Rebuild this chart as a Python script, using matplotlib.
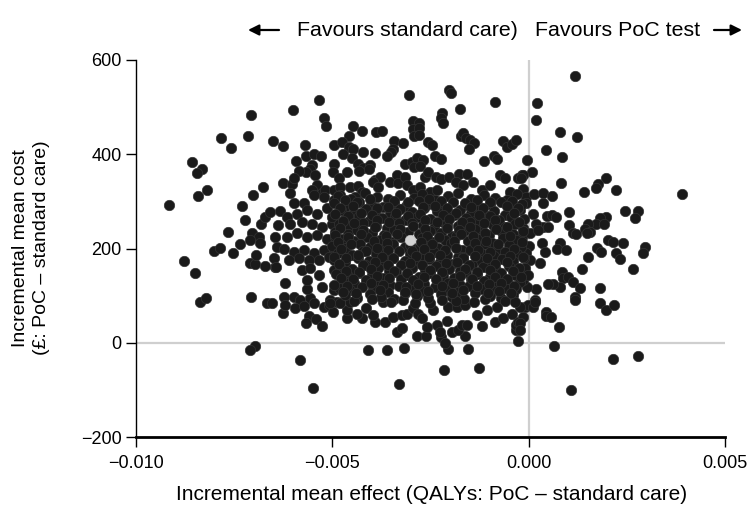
import matplotlib
matplotlib.use("Agg")
import matplotlib.pyplot as plt
import numpy as np

plt.rcParams["font.family"] = ["Liberation Sans", "DejaVu Sans"]

# Bootstrap replicates: (incremental effect in QALYs, incremental cost in £)
# scattered replicates away from the centre of the cloud
outer_left = [
    (-5.35e-3, 515), (-6.00e-3, 494), (-7.06e-3, 483), (-5.20e-3, 477), (-5.16e-3, 461),
    (-7.84e-3, 435), (-7.16e-3, 438), (-7.57e-3, 414), (-6.50e-3, 429), (-6.26e-3, 417),
    (-5.70e-3, 419), (-4.97e-3, 420), (-8.58e-3, 384), (-8.32e-3, 368), (-8.45e-3, 360),
    (-5.92e-3, 385), (-5.67e-3, 396), (-5.47e-3, 400), (-5.29e-3, 396), (-5.52e-3, 377),
    (-5.56e-3, 368), (-5.66e-3, 363), (-5.84e-3, 365), (-5.43e-3, 355), (-4.97e-3, 379),
    (-8.20e-3, 325), (-8.41e-3, 311), (-6.77e-3, 330), (-7.02e-3, 314), (-6.26e-3, 340),
    (-6.02e-3, 337), (-5.97e-3, 349), (-6.09e-3, 317), (-5.38e-3, 334), (-5.52e-3, 324),
    (-5.26e-3, 317), (-5.18e-3, 324), (-4.97e-3, 325),
    (-9.17e-3, 293), (-7.30e-3, 291), (-7.22e-3, 261), (-7.66e-3, 235), (-8.77e-3, 174),
    (-8.51e-3, 148), (-8.02e-3, 194), (-7.85e-3, 202), (-7.54e-3, 190), (-7.34e-3, 209),
    (-8.36e-3, 86), (-8.21e-3, 96), (-7.08e-3, 98), (-6.71e-3, 163), (-6.45e-3, 160),
    (-7.09e-3, 170), (-6.96e-3, 168), (-6.94e-3, 186), (-7.05e-3, 232), (-6.88e-3, 225),
    (-7.09e-3, 218), (-6.83e-3, 211), (-6.82e-3, 253), (-6.71e-3, 267), (-6.60e-3, 278),
    (-6.33e-3, 280), (-6.15e-3, 267), (-6.39e-3, 250), (-6.45e-3, 225), (-6.41e-3, 204),
    (-6.49e-3, 179), (-6.43e-3, 161), (-6.20e-3, 126), (-6.24e-3, 98), (-5.98e-3, 98),
    (-5.82e-3, 91), (-5.56e-3, 94), (-5.26e-3, 119), (-5.65e-3, 115), (-5.65e-3, 133),
    (-6.66e-3, 84), (-6.54e-3, 84),
    (-5.98e-3, 296), (-5.73e-3, 296), (-5.47e-3, 313), (-5.22e-3, 310), (-4.97e-3, 303),
    (-5.90e-3, 274), (-5.65e-3, 281), (-5.39e-3, 274), (-5.14e-3, 285), (-4.97e-3, 267),
    (-6.07e-3, 253), (-5.77e-3, 257), (-5.52e-3, 253), (-5.26e-3, 246), (-5.01e-3, 253),
    (-6.15e-3, 225), (-5.90e-3, 232), (-5.65e-3, 225), (-5.39e-3, 228), (-5.14e-3, 221),
    (-4.92e-3, 225), (-6.24e-3, 200), (-5.98e-3, 193), (-5.73e-3, 197), (-5.47e-3, 190),
    (-5.22e-3, 197), (-4.97e-3, 193), (-6.11e-3, 175), (-5.86e-3, 179), (-5.60e-3, 175),
    (-5.35e-3, 175), (-5.09e-3, 182), (-5.77e-3, 154), (-5.56e-3, 158), (-5.35e-3, 144),
    (-4.97e-3, 154), (-4.97e-3, 112), (-5.05e-3, 91),
    (-6.26e-3, 64), (-6.20e-3, 80), (-5.94e-3, 73), (-5.73e-3, 78), (-5.59e-3, 57),
    (-5.68e-3, 42), (-5.42e-3, 50), (-5.26e-3, 35), (-5.47e-3, 84), (-5.22e-3, 76),
    (-5.09e-3, 80), (-4.98e-3, 66), (-4.88e-3, 87), (-6.98e-3, -6), (-7.10e-3, -15),
    (-5.83e-3, -36), (-5.49e-3, -95),
]

outer_top = [
    (-3.04e-3, 526), (-2.03e-3, 536), (-1.99e-3, 529), (-0.87e-3, 510), (-1.75e-3, 495),
    (-2.21e-3, 488), (-2.23e-3, 476), (-2.17e-3, 467), (-2.94e-3, 470), (-2.79e-3, 467),
    (-2.95e-3, 453), (-2.79e-3, 455), (-2.92e-3, 439), (-2.79e-3, 441), (-4.47e-3, 460),
    (-4.24e-3, 449), (-3.90e-3, 448), (-3.73e-3, 450), (-4.58e-3, 438), (-4.75e-3, 426),
    (-4.58e-3, 416), (-4.47e-3, 412), (-4.73e-3, 400), (-4.23e-3, 404), (-3.91e-3, 402),
    (-3.42e-3, 428), (-3.21e-3, 424), (-3.45e-3, 412), (-3.50e-3, 405), (-3.62e-3, 396),
    (-2.56e-3, 426), (-2.46e-3, 419), (-2.38e-3, 396), (-2.23e-3, 389), (-1.73e-3, 438),
    (-1.68e-3, 445), (-1.60e-3, 435), (-1.49e-3, 431), (-1.39e-3, 423), (-1.51e-3, 412),
    (-1.13e-3, 385), (-0.88e-3, 397), (-0.81e-3, 389), (-0.65e-3, 428), (-0.56e-3, 416),
    (-0.43e-3, 421), (-0.32e-3, 431), (-0.05e-3, 388),
    (-4.98e-3, 363), (-4.84e-3, 349), (-4.63e-3, 363), (-4.51e-3, 392), (-4.34e-3, 379),
    (-4.21e-3, 370), (-4.04e-3, 377), (-4.06e-3, 368), (-4.31e-3, 365), (-3.92e-3, 345),
    (-3.15e-3, 380), (-2.98e-3, 383), (-2.84e-3, 392), (-2.68e-3, 388), (-2.92e-3, 373),
    (-2.77e-3, 375), (-2.64e-3, 352), (-2.56e-3, 363), (-2.36e-3, 352), (-2.22e-3, 347),
    (-1.77e-3, 359), (-1.58e-3, 358), (-2.02e-3, 351), (-1.85e-3, 341), (-1.67e-3, 334),
    (-1.41e-3, 341), (-1.20e-3, 324), (-0.99e-3, 334), (-0.73e-3, 356), (-0.60e-3, 349),
    (-0.26e-3, 349), (-0.18e-3, 356), (-0.48e-3, 320), (-0.14e-3, 327),
    (-3.79e-3, 352), (-3.96e-3, 341), (-3.83e-3, 331), (-3.53e-3, 341), (-3.36e-3, 356),
    (-3.32e-3, 338), (-3.15e-3, 352), (-3.11e-3, 334), (-2.94e-3, 324), (-2.77e-3, 331),
    (-2.51e-3, 320), (-2.34e-3, 324), (-4.81e-3, 331), (-4.55e-3, 330), (-4.34e-3, 332),
    (-4.25e-3, 320), (-4.81e-3, 313), (-4.42e-3, 310),
]

outer_bottom = [
    (-4.09e-3, -15), (-3.62e-3, -15), (-3.18e-3, -11), (-3.30e-3, -87), (-2.16e-3, -58),
    (-2.06e-3, -14), (-1.54e-3, -13), (-1.27e-3, -53), (-0.26e-3, 4),
    (-3.36e-3, 22), (-3.23e-3, 31), (-2.85e-3, 14), (-2.62e-3, 14), (-2.22e-3, 13),
    (-2.13e-3, -1), (-1.62e-3, 14), (-2.60e-3, 34), (-2.09e-3, 46), (-2.34e-3, 37),
    (-2.26e-3, 23), (-1.96e-3, 23), (-1.79e-3, 27), (-1.71e-3, 38), (-1.58e-3, 38),
    (-1.20e-3, 35), (-0.86e-3, 45), (-0.65e-3, 52), (-0.31e-3, 27), (-0.31e-3, 38),
    (-0.26e-3, 45),
    (-4.63e-3, 52), (-4.25e-3, 52), (-3.91e-3, 45), (-3.66e-3, 45), (-3.45e-3, 55),
    (-4.63e-3, 69), (-4.38e-3, 62), (-4.13e-3, 73), (-3.96e-3, 59), (-3.23e-3, 59),
    (-3.11e-3, 62), (-2.94e-3, 73), (-2.81e-3, 62), (-2.72e-3, 52), (-2.43e-3, 69),
    (-2.05e-3, 76), (-1.83e-3, 76), (-1.62e-3, 80), (-1.32e-3, 59), (-1.07e-3, 69),
    (-0.81e-3, 76), (-0.43e-3, 62), (-0.14e-3, 55), (-0.09e-3, 76), (-5.06e-3, 84),
    (-4.81e-3, 84), (-4.55e-3, 87), (-3.70e-3, 87), (-2.51e-3, 84),
]

outer_right = [
    (1.19e-3, 566), (0.22e-3, 508), (0.19e-3, 472), (0.81e-3, 447), (1.23e-3, 437),
    (0.44e-3, 410), (0.86e-3, 395), (0.08e-3, 363), (-0.15e-3, 356), (-0.20e-3, 350),
    (0.82e-3, 338), (1.96e-3, 349), (1.77e-3, 336), (1.72e-3, 329), (2.23e-3, 325),
    (1.40e-3, 320), (3.91e-3, 315), (-0.07e-3, 310), (0.13e-3, 315), (0.37e-3, 318),
    (0.59e-3, 311),
    (1.03e-3, 277), (2.46e-3, 280), (2.78e-3, 279), (2.72e-3, 265), (1.97e-3, 267),
    (1.82e-3, 264), (1.71e-3, 253), (1.52e-3, 253), (1.43e-3, 241), (1.56e-3, 235),
    (1.48e-3, 232), (1.92e-3, 251), (1.03e-3, 250), (1.14e-3, 233), (1.20e-3, 231),
    (0.46e-3, 269), (0.59e-3, 271), (0.70e-3, 267), (0.37e-3, 246), (0.50e-3, 245),
    (0.19e-3, 253), (0.12e-3, 273), (-0.07e-3, 296), (0.36e-3, 297), (-0.22e-3, 281),
    (2.03e-3, 218), (2.15e-3, 214), (2.41e-3, 211), (1.75e-3, 202), (1.83e-3, 193),
    (2.22e-3, 190), (2.32e-3, 178), (1.52e-3, 181), (0.81e-3, 212), (0.71e-3, 198),
    (0.94e-3, 197), (0.35e-3, 212), (0.42e-3, 193), (0.02e-3, 205), (-0.07e-3, 190),
    (0.03e-3, 176), (0.29e-3, 170), (-0.18e-3, 225), (0.03e-3, 232), (-0.14e-3, 243),
    (0.24e-3, 239), (2.95e-3, 204), (2.92e-3, 190), (2.65e-3, 156), (1.35e-3, 156),
    (0.84e-3, 151), (0.88e-3, 137), (0.80e-3, 119), (0.63e-3, 124), (0.50e-3, 124),
    (1.01e-3, 139), (1.14e-3, 129), (1.31e-3, 117), (1.82e-3, 117), (1.18e-3, 98),
    (0.19e-3, 115), (-0.05e-3, 119), (-0.14e-3, 133), (-0.09e-3, 158), (-0.01e-3, 144),
    (0.16e-3, 91), (-0.01e-3, 80),
    (-0.22e-3, 76), (0.10e-3, 75), (0.16e-3, 87), (0.44e-3, 66), (0.44e-3, 57),
    (0.57e-3, 55), (-0.22e-3, 41), (-0.22e-3, 27), (0.78e-3, 34), (0.65e-3, -7),
    (1.18e-3, 91), (1.82e-3, 84), (1.97e-3, 69), (2.18e-3, 80), (2.15e-3, -35),
    (2.78e-3, -28), (1.09e-3, -101),
]

# dense centre of the cloud
core = [
    (-4.85e-3, 312), (-4.52e-3, 306), (-4.18e-3, 318), (-3.87e-3, 309), (-3.58e-3, 304),
    (-3.27e-3, 314), (-2.93e-3, 307), (-2.71e-3, 316), (-2.38e-3, 303), (-2.06e-3, 311),
    (-1.79e-3, 317), (-1.46e-3, 305), (-1.13e-3, 313), (-0.86e-3, 308), (-0.56e-3, 302),
    (-0.29e-3, 315),
    (-4.95e-3, 296), (-4.66e-3, 291), (-4.33e-3, 299), (-4.02e-3, 293), (-3.71e-3, 288),
    (-3.44e-3, 297), (-3.12e-3, 290), (-2.79e-3, 300), (-2.56e-3, 294), (-2.24e-3, 289),
    (-1.93e-3, 298), (-1.62e-3, 292), (-1.31e-3, 287), (-0.98e-3, 295), (-0.71e-3, 299),
    (-0.41e-3, 290), (-0.16e-3, 294),
    (-4.79e-3, 281), (-4.46e-3, 276), (-4.14e-3, 284), (-3.91e-3, 278), (-3.54e-3, 273),
    (-3.31e-3, 283), (-2.98e-3, 277), (-2.66e-3, 285), (-2.34e-3, 279), (-2.11e-3, 274),
    (-1.76e-3, 282), (-1.48e-3, 275), (-1.21e-3, 286), (-0.89e-3, 280), (-0.61e-3, 272),
    (-0.26e-3, 284),
    (-5.00e-3, 266), (-4.69e-3, 262), (-4.31e-3, 270), (-4.06e-3, 258), (-3.74e-3, 264),
    (-3.41e-3, 269), (-3.16e-3, 260), (-2.84e-3, 267), (-2.52e-3, 263), (-2.19e-3, 257),
    (-1.91e-3, 271), (-1.59e-3, 265), (-1.36e-3, 259), (-1.04e-3, 268), (-0.76e-3, 261),
    (-0.44e-3, 266), (-0.11e-3, 263),
    (-4.84e-3, 251), (-4.56e-3, 246), (-4.21e-3, 254), (-3.89e-3, 248), (-3.61e-3, 243),
    (-3.29e-3, 255), (-2.69e-3, 249), (-2.42e-3, 244), (-2.09e-3, 253), (-1.81e-3, 247),
    (-1.49e-3, 256), (-1.22e-3, 242), (-0.91e-3, 250), (-0.59e-3, 245), (-0.34e-3, 252),
    (-4.94e-3, 236), (-4.61e-3, 231), (-4.36e-3, 239), (-3.99e-3, 233), (-3.69e-3, 228),
    (-3.42e-3, 240), (-3.08e-3, 234), (-2.79e-3, 230), (-2.51e-3, 238), (-2.24e-3, 232),
    (-1.96e-3, 227), (-1.64e-3, 237), (-1.36e-3, 241), (-1.01e-3, 229), (-0.69e-3, 235),
    (-0.41e-3, 231), (-0.14e-3, 238),
    (-4.76e-3, 221), (-4.44e-3, 216), (-4.11e-3, 224), (-3.79e-3, 218), (-3.51e-3, 213),
    (-3.24e-3, 225), (-2.71e-3, 222), (-2.46e-3, 214), (-2.14e-3, 219), (-1.86e-3, 226),
    (-1.54e-3, 215), (-1.26e-3, 220), (-0.94e-3, 212), (-0.66e-3, 223), (-0.31e-3, 217),
    (-5.01e-3, 206), (-4.64e-3, 201), (-4.29e-3, 209), (-4.04e-3, 203), (-3.76e-3, 198),
    (-3.46e-3, 210), (-3.14e-3, 204), (-2.91e-3, 199), (-2.59e-3, 208), (-2.31e-3, 202),
    (-1.99e-3, 211), (-1.71e-3, 197), (-1.39e-3, 205), (-1.11e-3, 209), (-0.79e-3, 200),
    (-0.51e-3, 207), (-0.19e-3, 203),
    (-4.86e-3, 191), (-4.49e-3, 186), (-4.21e-3, 194), (-3.89e-3, 188), (-3.61e-3, 183),
    (-3.29e-3, 195), (-3.01e-3, 189), (-2.69e-3, 184), (-2.41e-3, 193), (-2.09e-3, 187),
    (-1.81e-3, 182), (-1.49e-3, 196), (-1.21e-3, 190), (-0.89e-3, 185), (-0.61e-3, 192),
    (-0.29e-3, 188),
    (-4.96e-3, 176), (-4.69e-3, 171), (-4.34e-3, 179), (-4.06e-3, 173), (-3.74e-3, 168),
    (-3.46e-3, 180), (-3.14e-3, 174), (-2.86e-3, 169), (-2.54e-3, 178), (-2.26e-3, 172),
    (-1.94e-3, 167), (-1.66e-3, 181), (-1.29e-3, 175), (-1.01e-3, 170), (-0.69e-3, 177),
    (-0.41e-3, 173), (-0.12e-3, 179),
    (-4.81e-3, 161), (-4.49e-3, 156), (-4.16e-3, 164), (-3.84e-3, 158), (-3.56e-3, 153),
    (-3.24e-3, 165), (-2.96e-3, 159), (-2.64e-3, 154), (-2.36e-3, 163), (-2.04e-3, 157),
    (-1.76e-3, 152), (-1.44e-3, 166), (-1.16e-3, 160), (-0.84e-3, 155), (-0.51e-3, 162),
    (-0.24e-3, 158),
    (-4.91e-3, 146), (-4.59e-3, 141), (-4.31e-3, 149), (-3.99e-3, 143), (-3.71e-3, 138),
    (-3.39e-3, 150), (-3.11e-3, 144), (-2.79e-3, 139), (-2.51e-3, 148), (-2.19e-3, 142),
    (-1.91e-3, 137), (-1.59e-3, 151), (-1.31e-3, 145), (-0.99e-3, 140), (-0.71e-3, 147),
    (-0.36e-3, 143),
    (-4.74e-3, 131), (-4.46e-3, 126), (-4.14e-3, 134), (-3.86e-3, 128), (-3.54e-3, 123),
    (-3.26e-3, 135), (-2.94e-3, 129), (-2.66e-3, 124), (-2.34e-3, 133), (-2.06e-3, 127),
    (-1.74e-3, 122), (-1.46e-3, 136), (-1.14e-3, 130), (-0.86e-3, 125), (-0.54e-3, 132),
    (-0.21e-3, 128),
    (-4.84e-3, 116), (-4.56e-3, 111), (-4.24e-3, 119), (-3.96e-3, 113), (-3.59e-3, 108),
    (-3.31e-3, 120), (-2.99e-3, 114), (-2.71e-3, 109), (-2.39e-3, 118), (-2.11e-3, 112),
    (-1.79e-3, 107), (-1.51e-3, 121), (-1.19e-3, 115), (-0.91e-3, 110), (-0.59e-3, 117),
    (-0.31e-3, 113),
    (-4.69e-3, 101), (-4.36e-3, 96), (-4.04e-3, 104), (-3.76e-3, 98), (-3.44e-3, 93),
    (-3.16e-3, 105), (-2.84e-3, 99), (-2.56e-3, 94), (-2.24e-3, 103), (-1.96e-3, 97),
    (-1.64e-3, 92), (-1.36e-3, 106), (-0.99e-3, 100), (-0.71e-3, 95), (-0.39e-3, 102),
    (-4.45e-3, 89), (-4.00e-3, 92), (-3.50e-3, 86), (-3.20e-3, 90), (-2.90e-3, 85),
    (-2.20e-3, 91), (-1.85e-3, 88), (-1.40e-3, 86), (-1.10e-3, 92), (-0.60e-3, 89),
    (-0.35e-3, 87),
]

# further replicates packed between the centre rows
core_fill = [
    (-4.68e-3, 302), (-4.37e-3, 299), (-4.03e-3, 305), (-3.42e-3, 301), (-3.08e-3, 298),
    (-2.55e-3, 304), (-2.22e-3, 300), (-1.63e-3, 297), (-1.31e-3, 303), (-0.99e-3, 299),
    (-0.42e-3, 301),
    (-4.81e-3, 287), (-4.48e-3, 290), (-3.87e-3, 286), (-3.58e-3, 289), (-3.27e-3, 284),
    (-2.68e-3, 288), (-2.39e-3, 291), (-2.08e-3, 285), (-1.47e-3, 289), (-1.16e-3, 286),
    (-0.55e-3, 290), (-0.28e-3, 287),
    (-4.92e-3, 273), (-4.61e-3, 270), (-4.27e-3, 276), (-3.98e-3, 272), (-3.39e-3, 275),
    (-3.07e-3, 269), (-2.77e-3, 274), (-2.18e-3, 271), (-1.86e-3, 276), (-1.27e-3, 272),
    (-0.98e-3, 270), (-0.38e-3, 275),
    (-4.74e-3, 258), (-4.45e-3, 255), (-3.85e-3, 261), (-3.55e-3, 257), (-2.97e-3, 254),
    (-2.65e-3, 260), (-2.33e-3, 256), (-2.02e-3, 262), (-1.71e-3, 257), (-1.14e-3, 254),
    (-0.86e-3, 260), (-0.25e-3, 256),
    (-4.81e-3, 243), (-4.21e-3, 240), (-3.92e-3, 246), (-3.27e-3, 242), (-2.95e-3, 247),
    (-2.63e-3, 241), (-2.07e-3, 244), (-1.78e-3, 239), (-1.49e-3, 245), (-0.83e-3, 242),
    (-0.55e-3, 246),
    (-4.93e-3, 228), (-4.59e-3, 225), (-4.27e-3, 231), (-3.64e-3, 226), (-3.36e-3, 230),
    (-2.58e-3, 227), (-2.29e-3, 224), (-1.72e-3, 230), (-1.41e-3, 226), (-1.12e-3, 232),
    (-0.48e-3, 227),
    (-4.85e-3, 213), (-4.52e-3, 210), (-3.93e-3, 215), (-3.62e-3, 211), (-3.02e-3, 208),
    (-2.75e-3, 214), (-2.45e-3, 209), (-1.89e-3, 215), (-1.36e-3, 212), (-1.08e-3, 216),
    (-0.79e-3, 210), (-0.16e-3, 214),
    (-4.77e-3, 198), (-4.15e-3, 195), (-3.86e-3, 201), (-3.58e-3, 197), (-2.97e-3, 194),
    (-2.66e-3, 200), (-2.14e-3, 196), (-1.86e-3, 201), (-1.28e-3, 197), (-0.98e-3, 193),
    (-0.38e-3, 199),
    (-4.95e-3, 183), (-4.64e-3, 180), (-4.35e-3, 186), (-3.74e-3, 182), (-3.45e-3, 179),
    (-2.87e-3, 185), (-2.55e-3, 181), (-2.27e-3, 186), (-1.67e-3, 180), (-1.36e-3, 184),
    (-1.05e-3, 179), (-0.47e-3, 185), (-0.15e-3, 181),
    (-4.82e-3, 168), (-4.21e-3, 165), (-3.91e-3, 171), (-3.59e-3, 166), (-3.01e-3, 170),
    (-2.71e-3, 164), (-2.11e-3, 169), (-1.82e-3, 172), (-1.52e-3, 165), (-0.86e-3, 168),
    (-0.56e-3, 171),
    (-4.66e-3, 153), (-4.33e-3, 150), (-4.02e-3, 156), (-3.42e-3, 152), (-3.11e-3, 149),
    (-2.51e-3, 155), (-2.21e-3, 151), (-1.63e-3, 156), (-1.31e-3, 150), (-0.99e-3, 154),
    (-0.39e-3, 152),
    (-4.79e-3, 138), (-4.47e-3, 135), (-3.85e-3, 141), (-3.55e-3, 137), (-2.95e-3, 134),
    (-2.66e-3, 140), (-2.35e-3, 136), (-1.76e-3, 141), (-1.45e-3, 135), (-0.87e-3, 139),
    (-0.55e-3, 136), (-0.20e-3, 140),
    (-4.95e-3, 123), (-4.63e-3, 120), (-4.01e-3, 126), (-3.72e-3, 122), (-3.12e-3, 119),
    (-2.83e-3, 125), (-2.21e-3, 121), (-1.92e-3, 126), (-1.32e-3, 120), (-1.01e-3, 124),
    (-0.71e-3, 127), (-0.38e-3, 121),
    (-4.72e-3, 108), (-4.41e-3, 105), (-3.79e-3, 111), (-3.15e-3, 107), (-2.87e-3, 104),
    (-2.56e-3, 110), (-1.95e-3, 106), (-1.66e-3, 111), (-1.04e-3, 105), (-0.75e-3, 109),
    (-0.45e-3, 106),
]

# mean of the replicates
mean_effect = -3.02e-3
mean_cost = 219

points = np.array(outer_left + outer_top + outer_bottom + outer_right + core + core_fill)

fig = plt.figure(figsize=(7.53, 5.09), dpi=100)
ax = fig.add_axes([136 / 753, 1 - 437 / 509, 589 / 753, 377 / 509])

ax.axvline(0, color="#cfcfcf", lw=1.6, zorder=1)
ax.axhline(0, color="#cfcfcf", lw=1.6, zorder=1)

ax.scatter(points[:, 0], points[:, 1], s=56, c="#1a1a1a",
           edgecolors="#333333", linewidths=0.5, zorder=3)
ax.scatter([mean_effect], [mean_cost], s=56, c="#d4d4d4",
           edgecolors="#c0c0c0", linewidths=0.5, zorder=4)

ax.set_xlim(-0.010, 0.005)
ax.set_ylim(-200, 600)
ax.set_xticks([-0.010, -0.005, 0.000, 0.005])
ax.set_xticklabels(["\u22120.010", "\u22120.005", "0.000", "0.005"])
ax.set_yticks([-200, 0, 200, 400, 600])
ax.set_yticklabels(["\u2212200", "0", "200", "400", "600"])

for side in ["top", "right"]:
    ax.spines[side].set_visible(False)
ax.spines["left"].set_linewidth(1.0)
ax.spines["bottom"].set_linewidth(2.0)
ax.spines["bottom"].set_zorder(5)
ax.tick_params(axis="both", direction="out", length=7, width=1.0,
               labelsize=13, color="black")
ax.tick_params(axis="x", pad=6)

fig.text(432 / 753, 1 - 495 / 509,
         "Incremental mean effect (QALYs: PoC \u2013 standard care)",
         ha="center", va="center", fontsize=15)
fig.text(31 / 753, 1 - 248 / 509,
         "Incremental mean cost\n(\u00a3: PoC \u2013 standard care)",
         ha="center", va="center", rotation=90, fontsize=14, linespacing=1.25)

# direction of benefit above the plot
fig.text(518 / 753, 1 - 30 / 509, "Favours standard care)", ha="right",
         va="center", fontsize=15.4)
fig.text(535 / 753, 1 - 30 / 509, "Favours PoC test", ha="left",
         va="center", fontsize=15.4)
ax.annotate("", xy=(248 / 753, 1 - 30 / 509), xytext=(279 / 753, 1 - 30 / 509),
            xycoords="figure fraction", textcoords="figure fraction",
            arrowprops=dict(arrowstyle="-|>", color="black", lw=1.6,
                            mutation_scale=16, shrinkA=0, shrinkB=0))
ax.annotate("", xy=(742 / 753, 1 - 30 / 509), xytext=(714 / 753, 1 - 30 / 509),
            xycoords="figure fraction", textcoords="figure fraction",
            arrowprops=dict(arrowstyle="-|>", color="black", lw=1.6,
                            mutation_scale=16, shrinkA=0, shrinkB=0))

fig.savefig("out.png", dpi=100)
